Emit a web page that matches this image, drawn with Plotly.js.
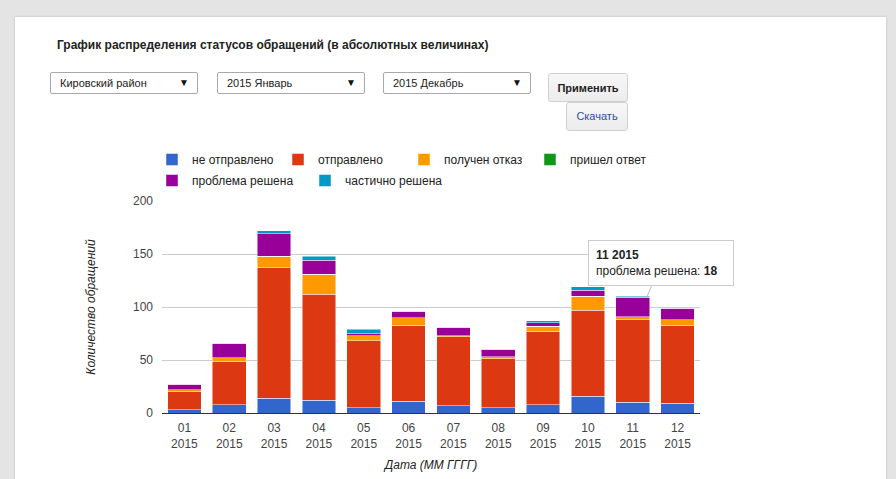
<!DOCTYPE html>
<html>
<head>
<meta charset="utf-8">
<script src="https://cdn.plot.ly/plotly-3.0.1.min.js"></script>
<style>
  html, body { margin:0; padding:0; width:896px; height:479px; overflow:hidden; background:#e4e4e4; font-family:"Liberation Sans", Arial, sans-serif; }
  #card { position:absolute; left:15px; top:17px; width:871px; height:480px; background:#fff; box-shadow:0 0 2px #b5b5b5; }
  #chart { position:absolute; left:0; top:0; width:896px; height:479px; }
  .sel { position:absolute; top:72px; height:20px; width:146px; border:1px solid #a9a9a9; border-radius:2px; background:#fff; font-size:11px; color:#222; line-height:20px; box-sizing:content-box; z-index:5; }
  .sel span.t { position:absolute; left:9px; top:0; }
  .sel span.a { position:absolute; right:8px; top:0; font-size:10px; color:#111; }
  .btn { position:absolute; border:1px solid #d0d0d0; border-radius:3px; background:linear-gradient(#f7f7f7,#ececec); font-size:11px; text-align:center; z-index:5; }
</style>
</head>
<body>
<div id="card"></div>
<div id="chart"></div>
<div class="sel" style="left:50px;"><span class="t">Кировский район</span><span class="a">▼</span></div>
<div class="sel" style="left:217px;"><span class="t">2015 Январь</span><span class="a">▼</span></div>
<div class="sel" style="left:383px;"><span class="t">2015 Декабрь</span><span class="a">▼</span></div>
<div class="btn" style="left:548px; top:73px; width:78px; height:27px; line-height:29px; font-weight:bold; color:#222;">Применить</div>
<div class="btn" style="left:566px; top:102px; width:60px; height:27px; line-height:27px; color:#2d4f9e;">Скачать</div>
<script>
const months = ['01','02','03','04','05','06','07','08','09','10','11','12'];
const year = '2015';
const seriesNames = ['не отправлено','отправлено','получен отказ','пришел ответ','проблема решена','частично решена'];
const seriesColors = ['#3366cc','#dc3912','#ff9900','#109618','#990099','#0099c6'];
const notSent   = [3, 8, 14, 12, 5, 11, 7, 5, 8, 16, 10, 9];
const sent      = [17, 41, 123, 100, 63, 72, 65, 46, 69, 81, 78, 74];
const refused   = [2, 3, 11, 19, 5, 7, 1, 2, 5, 13, 3, 5];
const answered  = [0, 0, 0, 0, 0, 0, 0, 0, 0, 0, 0, 0];
const solved    = [5, 14, 21, 13, 2, 6, 8, 7, 3, 6, 18, 11];
const partial   = [0, 0, 3, 4, 4, 0, 0, 0, 2, 3, 1, 0];
const seriesValues = [notSent, sent, refused, answered, solved, partial];
const tooltipMonth = '11';
const tooltipSeries = 4;

const FONT = '"Liberation Sans", Arial, sans-serif';
const traces = seriesValues.map((vals, i) => ({
  type: 'bar',
  name: seriesNames[i],
  x: months,
  y: vals,
  marker: { color: seriesColors[i], line: { color: 'rgba(255,255,255,0.6)', width: 0.8 } },
  legend: i < 4 ? 'legend' : 'legend2',
  hoverinfo: 'skip'
}));

const ti = months.indexOf(tooltipMonth);
let stackTop = 0;
for (let s = 0; s <= tooltipSeries; s++) stackTop += seriesValues[s][ti];

const layout = {
  width: 896, height: 479,
  paper_bgcolor: 'rgba(0,0,0,0)', plot_bgcolor: 'rgba(0,0,0,0)',
  font: { family: FONT, size: 12, color: '#222' },
  margin: { l: 162, r: 196, t: 201, b: 66, pad: 0 },
  barmode: 'stack',
  bargap: 0.25,
  title: {
    text: 'График распределения статусов обращений (в абсолютных величинах)',
    xref: 'container', yref: 'container', x: 57/896, y: 1 - 45/479,
    xanchor: 'left', yanchor: 'middle',
    font: { family: FONT, size: 12, color: '#222', weight: 'bold' }
  },
  xaxis: {
    type: 'category', range: [-0.5, months.length - 0.5], autorange: false,
    tickmode: 'array', tickvals: months, ticktext: months.map(m => m + '<br>' + year),
    tickfont: { size: 12, color: '#444' },
    showgrid: false, showline: false, ticks: '', ticklabelstandoff: 6,
    title: { text: 'Дата (ММ ГГГГ)', font: { size: 12, color: '#222', style: 'italic' }, standoff: 11 }
  },
  yaxis: {
    range: [0, 200], autorange: false, dtick: 50,
    gridcolor: '#cccccc', gridwidth: 1,
    zeroline: true, zerolinecolor: '#333', zerolinewidth: 1,
    tickfont: { size: 12, color: '#444' },
    ticks: '', ticklabelstandoff: 8,
    title: { text: 'Количество обращений', font: { size: 12, color: '#222', style: 'italic' }, standoff: 34 }
  },
  legend: {
    orientation: 'h', xref: 'container', yref: 'container',
    x: 152/896, y: 1 - 145/479, xanchor: 'left', yanchor: 'top',
    font: { size: 12, color: '#222' }, bgcolor: 'rgba(0,0,0,0)',
    entrywidth: 81, traceorder: 'normal'
  },
  legend2: {
    orientation: 'h', xref: 'container', yref: 'container',
    x: 152/896, y: 1 - 166/479, xanchor: 'left', yanchor: 'top',
    font: { size: 12, color: '#222' }, bgcolor: 'rgba(0,0,0,0)',
    entrywidth: 108, traceorder: 'normal'
  },
  annotations: [{
    x: ti, y: stackTop, xref: 'x', yref: 'y',
    text: '<b>' + tooltipMonth + ' ' + year + '</b><br>' + seriesNames[tooltipSeries] + ': <b>' + seriesValues[tooltipSeries][ti] + '</b>',
    align: 'left', showarrow: true, arrowhead: 0, arrowwidth: 1, arrowcolor: '#bbbbbb',
    ax: 14, ay: -34, xshift: 14, standoff: 0,
    bgcolor: '#ffffff', bordercolor: '#cccccc', borderwidth: 1, borderpad: 7,
    width: 130, font: { size: 12, color: '#222' }
  }],
  showlegend: true,
  hovermode: false
};

Plotly.newPlot('chart', traces, layout, { displayModeBar: false, staticPlot: true });
</script>
</body>
</html>
